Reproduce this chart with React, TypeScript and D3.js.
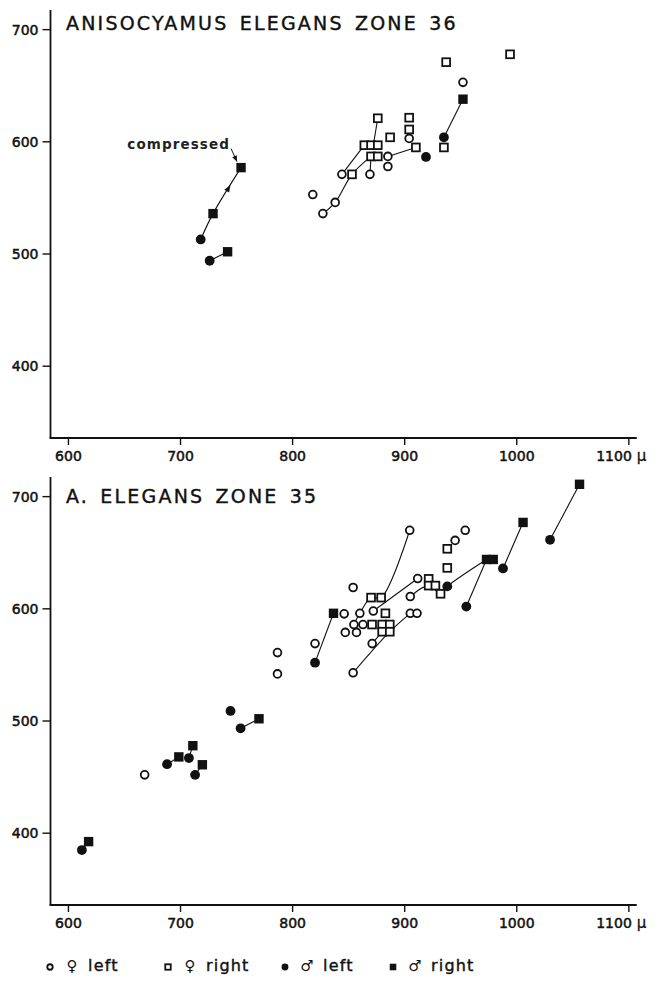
import React from 'react'
import * as d3 from 'd3'

type Pt = [number, number]

// Zone 36 (top panel)
const Z36_FEMALE_LEFT: Pt[] = [[818, 553], [827, 536], [838, 546], [844, 571], [869, 571], [885, 587], [885, 578], [904, 603], [952, 653]]
const Z36_FEMALE_RIGHT: Pt[] = [[853, 571], [864, 597], [870, 597], [876, 597], [870, 587], [876, 587], [876, 621], [887, 604], [904, 621.5], [904, 611], [910, 595], [935, 595], [937, 671], [994, 678]]
const Z36_MALE_LEFT: Pt[] = [[718, 513], [726, 494], [919, 586.5], [935, 604]]
const Z36_MALE_RIGHT: Pt[] = [[729, 536], [754, 577], [742, 502], [952, 638]]
const Z36_LINKS: Pt[][] = [
  [[718, 513], [729, 536], [754, 577]],
  [[726, 494], [742, 502]],
  [[827, 536], [838, 546], [853, 571], [870, 587]],
  [[844, 571], [864, 597]],
  [[869, 571], [870, 587]],
  [[876, 621], [872, 597]],
  [[885, 587], [910, 595]],
  [[935, 604], [952, 638]],
]

// Zone 35 (bottom panel)
const Z35_FEMALE_LEFT: Pt[] = [[668, 452], [786.5, 561], [786.5, 542], [820, 569], [846, 595.5], [854, 619], [847, 579], [857, 579], [854.7, 586], [862.8, 586], [860, 596], [871, 569], [854, 543], [872, 598], [905, 611], [911.6, 627], [905, 596], [911, 596], [904.5, 670], [945, 661], [954, 670]]
const Z35_FEMALE_RIGHT: Pt[] = [[870.9, 586], [879.9, 586], [886.7, 586], [879.9, 579.6], [886.7, 579.6], [882.8, 596], [870, 610], [879, 610], [921.4, 626.7], [921.4, 620.7], [927.4, 620.7], [932, 613.4], [938, 653.5], [938, 636.5]]
const Z35_MALE_LEFT: Pt[] = [[612, 385], [688, 461.5], [707.5, 467], [713, 452], [744.6, 509], [753.6, 493.5], [820, 552], [938, 620], [955, 602], [987.7, 636], [1029.7, 661.5]]
const Z35_MALE_RIGHT: Pt[] = [[618, 392.5], [698.5, 468], [711, 478], [719.5, 461], [770, 502], [836.5, 596], [973, 644], [979, 644], [1005.6, 677], [1056, 711]]
const Z35_LINKS: Pt[][] = [
  [[612, 385], [618, 392.5]],
  [[688, 461.5], [698.5, 468]],
  [[707.5, 467], [711, 478]],
  [[713, 452], [719.5, 461]],
  [[753.6, 493.5], [770, 502]],
  [[820, 552], [836.5, 596]],
  [[854.7, 586], [860, 596], [870, 610], [879, 610], [904.5, 670]],
  [[872, 598], [911.6, 627]],
  [[905, 611], [921.4, 620.7], [932, 613.4], [938, 620], [973, 644]],
  [[955, 602], [973, 644]],
  [[987.7, 636], [1005.6, 677]],
  [[1029.7, 661.5], [1056, 711]],
  [[854, 543], [886.7, 579.6], [905, 596]],
  [[871, 569], [879.9, 579.6]],
]

const X_TICKS = [600, 700, 800, 900, 1000, 1100]
const Y_TICKS = [400, 500, 600, 700]
const LEGEND = [
  { kind: 'fl', sex: '♀', side: 'left' },
  { kind: 'fr', sex: '♀', side: 'right' },
  { kind: 'ml', sex: '♂', side: 'left' },
  { kind: 'mr', sex: '♂', side: 'right' },
]

const FONT = "'DejaVu Sans', sans-serif"
const W = 659
const H = 982

function Marker({ kind, cx, cy, s = 1 }: { kind: string; cx: number; cy: number; s?: number }) {
  if (kind === 'fl') return <circle cx={cx} cy={cy} r={3.9 * s} fill="#fff" stroke="#111" strokeWidth={1.8} />
  if (kind === 'fr') return <rect x={cx - 3.9 * s} y={cy - 3.9 * s} width={7.8 * s} height={7.8 * s} fill="#fff" stroke="#111" strokeWidth={1.8} />
  if (kind === 'ml') return <circle cx={cx} cy={cy} r={4.9 * s} fill="#111" />
  return <rect x={cx - 4.7 * s} y={cy - 4.7 * s} width={9.4 * s} height={9.4 * s} fill="#111" />
}

function arrowHead(x1: number, y1: number, x2: number, y2: number, len = 7, half = 3) {
  const a = Math.atan2(y2 - y1, x2 - x1)
  const bx = x2 - len * Math.cos(a)
  const by = y2 - len * Math.sin(a)
  const px = -Math.sin(a) * half
  const py = Math.cos(a) * half
  return `M${x2},${y2}L${bx + px},${by + py}L${bx - px},${by - py}Z`
}

function Panel({ top, bottom, title, titleY, fl, fr, ml, mr, links, compressed }: {
  top: number; bottom: number; title: string; titleY: number
  fl: Pt[]; fr: Pt[]; ml: Pt[]; mr: Pt[]; links: Pt[][]; compressed?: boolean
}) {
  const x = d3.scaleLinear().domain([584, 1107]).range([50.5, 636.7])
  const y = d3.scaleLinear().domain([336, 717.5]).range([bottom, top])
  const line = d3.line<Pt>().x((d) => x(d[0])).y((d) => y(d[1])).curve(d3.curveCatmullRom.alpha(0.5))

  let annot = null
  if (compressed) {
    const a = links[0][1]
    const b = links[0][2]
    const t = 0.62
    const mx = x(a[0]) + (x(b[0]) - x(a[0])) * t
    const my = y(a[1]) + (y(b[1]) - y(a[1])) * t
    const ex = x(b[0]) - 4
    const ey = y(b[1]) - 6
    annot = (
      <g>
        <path d={arrowHead(x(a[0]), y(a[1]), mx, my, 7, 2.8)} fill="#111" />
        <text x={x(b[0]) - 11} y={ey - 13} textAnchor="end" fontFamily={FONT} fontSize={13.5} fontWeight="bold" letterSpacing={1.1} fill="#222">compressed</text>
        <line x1={ex - 6} y1={ey - 13} x2={ex} y2={ey} stroke="#111" strokeWidth={1} />
        <path d={arrowHead(ex - 6, ey - 13, ex, ey, 6, 2.5)} fill="#111" />
      </g>
    )
  }

  return (
    <g>
      <line x1={x.range()[0]} x2={x.range()[0]} y1={top} y2={bottom} stroke="#111" strokeWidth={1.8} />
      <line x1={x.range()[0] - 0.9} x2={x.range()[1]} y1={bottom} y2={bottom} stroke="#111" strokeWidth={1.8} />
      {Y_TICKS.map((t) => (
        <g key={t}>
          <line x1={x.range()[0] - 8} x2={x.range()[0]} y1={y(t)} y2={y(t)} stroke="#111" strokeWidth={1.4} />
          <text x={x.range()[0] - 12} y={y(t) + 5} textAnchor="end" fontFamily={FONT} fontSize={14} fill="#111" stroke="#111" strokeWidth={0.5}>{t}</text>
        </g>
      ))}
      {X_TICKS.map((t) => (
        <g key={t}>
          <line x1={x(t)} x2={x(t)} y1={bottom} y2={bottom + 7} stroke="#111" strokeWidth={1.4} />
          <text x={t === 1100 ? x(t) + 3 : x(t)} y={bottom + 23} textAnchor={t === 1100 ? 'end' : 'middle'} fontFamily={FONT} fontSize={14} fill="#111" stroke="#111" strokeWidth={0.5}>{t}</text>
        </g>
      ))}
      <text x={x(1100) + 8} y={bottom + 23} fontFamily={FONT} fontSize={15} fill="#111" stroke="#111" strokeWidth={0.3}>μ</text>
      <text x={66} y={titleY} fontFamily={FONT} fontSize={19} letterSpacing={2.2} wordSpacing={3} fill="#111" stroke="#111" strokeWidth={0.4}>{title}</text>
      {links.map((l, i) => (
        <path key={i} d={line(l) || ''} fill="none" stroke="#111" strokeWidth={1.1} />
      ))}
      {annot}
      {ml.map((d, i) => <Marker key={'ml' + i} kind="ml" cx={x(d[0])} cy={y(d[1])} />)}
      {mr.map((d, i) => <Marker key={'mr' + i} kind="mr" cx={x(d[0])} cy={y(d[1])} />)}
      {fl.map((d, i) => <Marker key={'fl' + i} kind="fl" cx={x(d[0])} cy={y(d[1])} />)}
      {fr.map((d, i) => <Marker key={'fr' + i} kind="fr" cx={x(d[0])} cy={y(d[1])} />)}
    </g>
  )
}

export default function App() {
  const legendX = [50, 168, 285, 393]
  return (
    <svg width={W} height={H} style={{ position: 'absolute', left: 0, top: 0, background: '#fff' }}>
      <rect width={W} height={H} fill="#fff" />
      <Panel top={10} bottom={438} title="ANISOCYAMUS ELEGANS ZONE 36" titleY={30}
        fl={Z36_FEMALE_LEFT} fr={Z36_FEMALE_RIGHT} ml={Z36_MALE_LEFT} mr={Z36_MALE_RIGHT} links={Z36_LINKS} compressed />
      <Panel top={477} bottom={905} title="A. ELEGANS ZONE 35" titleY={503}
        fl={Z35_FEMALE_LEFT} fr={Z35_FEMALE_RIGHT} ml={Z35_MALE_LEFT} mr={Z35_MALE_RIGHT} links={Z35_LINKS} />
      {LEGEND.map((l, i) => (
        <g key={l.kind}>
          <Marker kind={l.kind} cx={legendX[i]} cy={967} s={0.7} />
          <text x={legendX[i] + 22} y={971} textAnchor="middle" fontFamily={FONT} fontSize={15} fill="#111">{l.sex}</text>
          <text x={legendX[i] + 38} y={971} fontFamily={FONT} fontSize={16} fill="#111" stroke="#111" strokeWidth={0.4} letterSpacing={1.2}>{l.side}</text>
        </g>
      ))}
    </svg>
  )
}
